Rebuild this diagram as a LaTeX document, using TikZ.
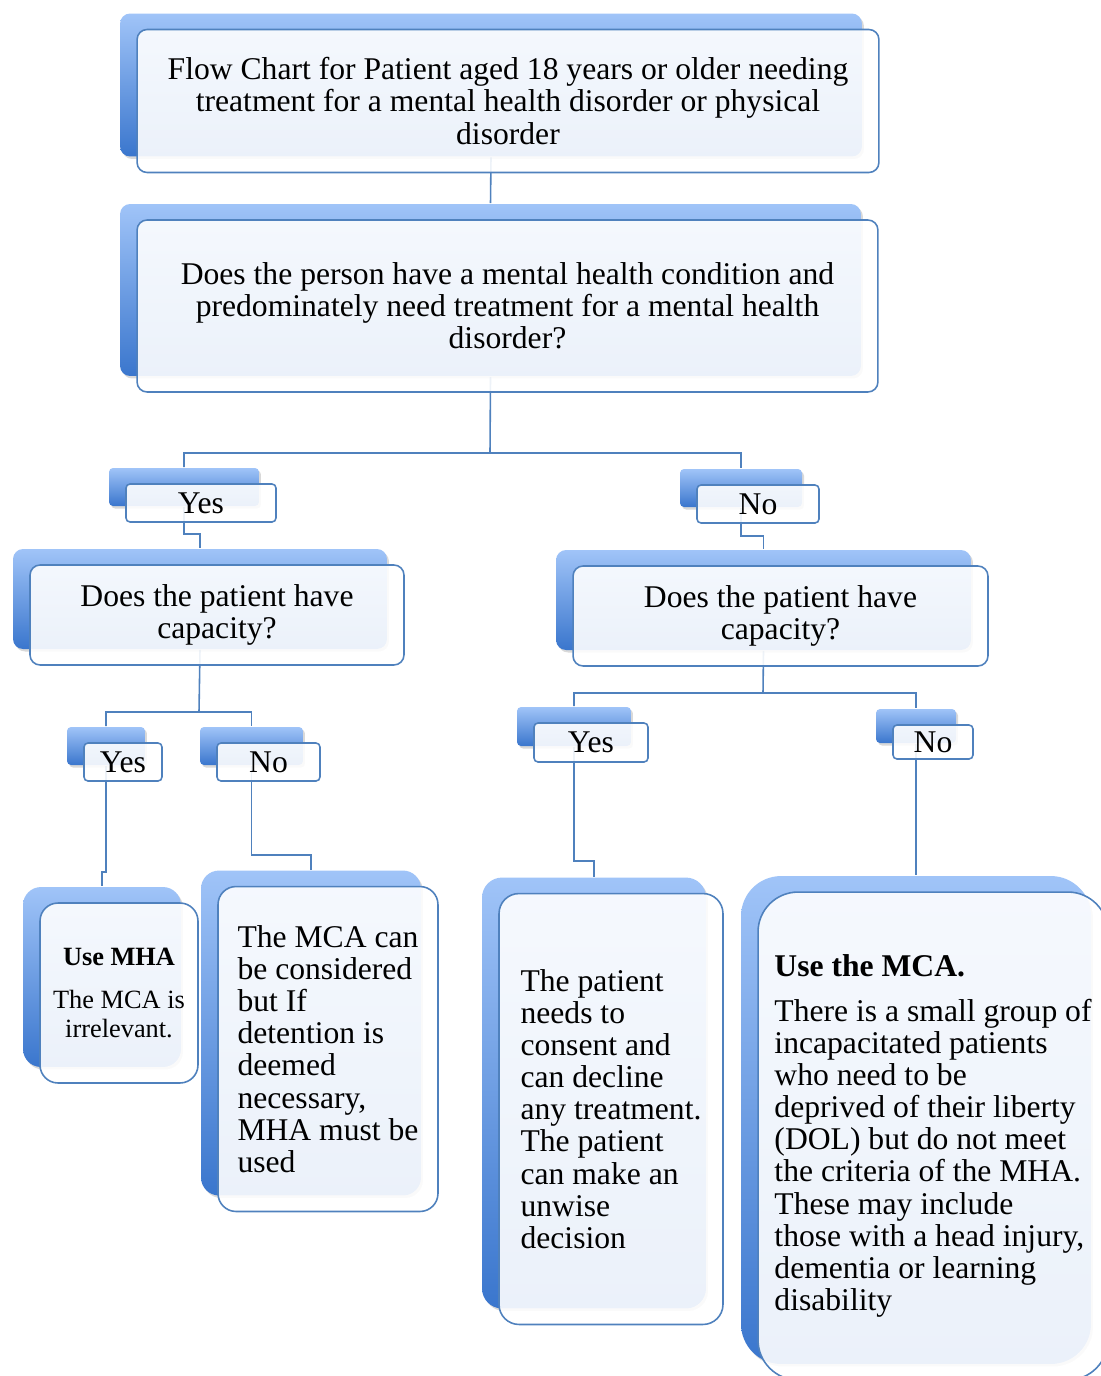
\documentclass[tikz,border=0pt]{standalone}
\usepackage{fontspec}
\setmainfont{Liberation Serif}
\usetikzlibrary{shadows,backgrounds}
\definecolor{edge}{RGB}{79,129,189}
\definecolor{backtop}{RGB}{160,196,248}
\definecolor{backbot}{RGB}{58,118,205}
\tikzset{
  card/.style={draw=edge,line width=0.9pt,fill=white,fill opacity=0.9,text opacity=1,
    rounded corners=#1,inner sep=0pt,font=\fontsize{18}{18.3}\selectfont,
    general shadow={fill=black,fill opacity=0.15,draw=none,shadow xshift=-0.3cm,shadow yshift=0.27cm},
    general shadow={top color=backtop,bottom color=backbot,fill opacity=1,draw=none,
      shadow xshift=-0.34cm,shadow yshift=0.32cm}},
  card/.default=0.2cm,
  link/.style={draw=edge,line width=0.9pt},
  up/.style={xshift=-0.34cm,yshift=0.32cm},
  dn/.style={xshift=-0.34cm,yshift=0.32cm}
}

\begin{document}
\begin{tikzpicture}[x=0.02cm,y=-0.02cm]
\useasboundingbox (0,0) rectangle (1100,1376);
% top of the chart
\node[card,minimum width=14.84cm,minimum height=2.86cm,align=center] (title) at (508,101)
  {Flow Chart for Patient aged 18 years or older needing\\ treatment for a mental health disorder or physical\\ disorder};
\node[card,minimum width=14.82cm,minimum height=3.44cm,align=center] (quest) at (507.5,306)
  {Does the person have a mental health condition and\\ predominately need treatment for a mental health\\ disorder?};
% first answers
\node[card=0.08cm,minimum width=3cm,minimum height=0.76cm] (yesA) at (201,503) {Yes};
\node[card=0.08cm,minimum width=2.44cm,minimum height=0.76cm] (noA) at (758,504) {No};
\node[card,minimum width=7.48cm,minimum height=2cm,align=center] (capL) at (217,615)
  {Does the patient have\\ capacity?};
\node[card,minimum width=8.3cm,minimum height=2cm,align=center] (capR) at (780.5,616)
  {Does the patient have\\ capacity?};
% second answers
\node[card=0.08cm,minimum width=1.56cm,minimum height=0.76cm] (yesB) at (123,762) {Yes};
\node[card=0.08cm,minimum width=2.06cm,minimum height=0.76cm] (noB) at (268.5,762) {No};
\node[card=0.08cm,minimum width=2.28cm,minimum height=0.78cm] (yesC) at (591,742.5) {Yes};
\node[card=0.08cm,minimum width=1.6cm,minimum height=0.68cm] (noC) at (933,742) {No};
% outcomes
\node[card=0.36cm,minimum width=3.16cm,minimum height=3.6cm,align=center,
  font=\fontsize{15}{16.5}\selectfont] (leafA) at (119,993)
  {\textbf{Use MHA}\\[8pt] The MCA is\\ irrelevant.};
\node[card=0.36cm,minimum width=4.4cm,minimum height=6.5cm,align=left] (leafB) at (328,1049)
  {The MCA can\\ be considered\\ but If\\ detention is\\ deemed\\ necessary,\\ MHA must be\\ used};
\node[card=0.4cm,minimum width=4.48cm,minimum height=8.62cm,align=left] (leafC) at (611,1109)
  {The patient\\ needs to\\ consent and\\ can decline\\ any treatment.\\ The patient\\ can make an\\ unwise\\ decision};
\node[card=0.8cm,minimum width=7cm,minimum height=9.76cm,align=left] (leafD) at (933,1136)
  {\textbf{Use the MCA.}\\[7pt] There is a small group of\\ incapacitated patients\\ who need to be\\ deprived of their liberty\\ (DOL) but do not meet\\ the criteria of the MHA.\\ These may include\\ those with a head injury,\\ dementia or learning\\ disability};
% connectors behind the cards
\begin{scope}[on background layer]
\coordinate (q1) at (490,453);
\coordinate (c1) at (199,712);
\coordinate (c2) at (763,693);
\draw[link] ([dn]title.south) -- ([up]quest.north);
\draw[link] ([dn]quest.south) -- (q1) -| ([up]yesA.north);
\draw[link] (q1) -| ([up]noA.north);
\draw[link] ([dn]yesA.south) -- ++(0,27) -| ([up]capL.north);
\draw[link] ([dn]noA.south) -- ++(0,28) -| ([up]capR.north);
\draw[link] ([dn]capL.south) -- (c1) -| ([up]yesB.north);
\draw[link] (c1) -| ([up]noB.north);
\draw[link] ([dn]capR.south) -- (c2) -| ([up]yesC.north);
\draw[link] (c2) -| ([up]noC.north);
\draw[link] ([dn]yesB.south) -- ++(0,106) -| ([up]leafA.north);
\draw[link] ([dn]noB.south) -- ++(0,89) -| ([up]leafB.north);
\draw[link] ([dn]yesC.south) -- ++(0,114) -| ([up]leafC.north);
\draw[link] ([dn]noC.south) -- ++(0,115) -| ([up]leafD.north);
\end{scope}
\end{tikzpicture}
\end{document}
